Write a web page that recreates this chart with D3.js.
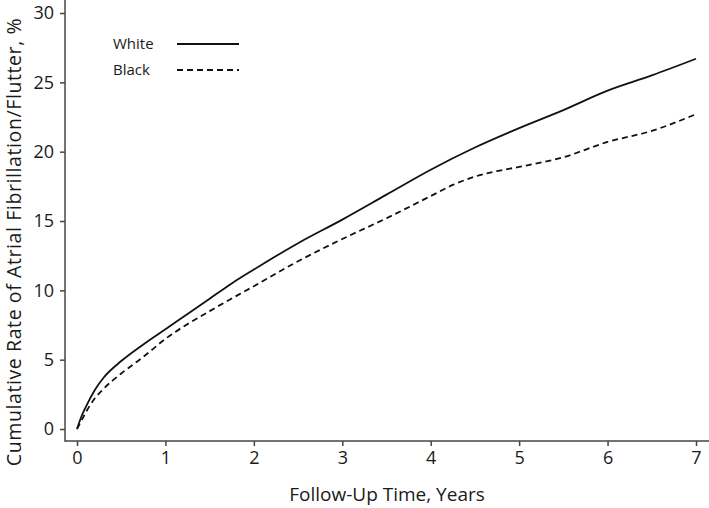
<!DOCTYPE html>
<html>
<head>
<meta charset="utf-8">
<script src="https://cdn.jsdelivr.net/npm/d3@7"></script>
<style>
  body { margin: 0; background: #fff; }
  svg text { font-family: "Open Sans", Lato, sans-serif; fill: #1a1a1a; }
</style>
</head>
<body>
<svg id="chart" width="709" height="508"></svg>
<script>
// follow-up years and cumulative rate (%)
var whiteYears = [0, 0.05, 0.1, 0.2, 0.3, 0.5, 0.75, 1, 1.25, 1.5, 1.75, 2, 2.5, 3, 3.5, 4, 4.5, 5, 5.5, 6, 6.5, 7];
var whiteRate  = [0, 0.9, 1.6, 2.8, 3.7, 4.9, 6.1, 7.2, 8.3, 9.4, 10.5, 11.5, 13.4, 15.1, 16.9, 18.7, 20.3, 21.7, 23.0, 24.4, 25.5, 26.7];

var blackYears = [0, 0.05, 0.1, 0.2, 0.3, 0.5, 0.75, 1, 1.5, 2, 2.5, 3, 3.5, 4, 4.25, 4.5, 4.75, 5, 5.5, 6, 6.5, 7];
var blackRate  = [0, 0.6, 1.2, 2.2, 2.9, 4.0, 5.2, 6.5, 8.5, 10.3, 12.1, 13.7, 15.2, 16.8, 17.6, 18.2, 18.6, 18.9, 19.6, 20.7, 21.5, 22.7];

var xTicks = [0, 1, 2, 3, 4, 5, 6, 7];
var yTicks = [0, 5, 10, 15, 20, 25, 30];

var series = [
  {name: "White", t: whiteYears, v: whiteRate, dash: null},
  {name: "Black", t: blackYears, v: blackRate, dash: "6,4"}
];

var svg = d3.select('#chart');

var x = d3.scaleLinear().domain([0, 7]).range([77, 696]);
var y = d3.scaleLinear().domain([0, 30]).range([429, 13]);

var axisColor = "#444";

// axes (domain lines drawn by hand so they run to the frame edges)
var xax = svg.append('g')
  .attr('transform', "translate(0,441)")
  .call(d3.axisBottom(x).tickValues(xTicks).tickSize(5).tickPadding(5).tickFormat(d3.format('d')));
xax.select('.domain').remove();
xax.selectAll('line').attr('stroke', axisColor).attr('stroke-width', 1.5);
xax.selectAll('text').style('font-size', '18px').attr('fill', '#1a1a1a');
xax.append('line').attr('x1', 65).attr('x2', 709).attr('y1', 0).attr('y2', 0)
  .attr('stroke', axisColor).attr('stroke-width', 1.5);

var yax = svg.append('g')
  .attr('transform', "translate(65,0)")
  .call(d3.axisLeft(y).tickValues(yTicks).tickSize(5).tickPadding(6).tickFormat(d3.format('d')));
yax.select('.domain').remove();
yax.selectAll('line').attr('stroke', axisColor).attr('stroke-width', 1.5);
yax.selectAll('text').style('font-size', '18px').attr('fill', '#1a1a1a');
yax.append('line').attr('x1', 0).attr('x2', 0).attr('y1', 0).attr('y2', 441.75)
  .attr('stroke', axisColor).attr('stroke-width', 1.5);

// axis titles
svg.append('text')
  .attr('x', 387).attr('y', 501)
  .attr('text-anchor', 'middle')
  .style('font-size', '19px')
  .text('Follow-Up Time, Years');

svg.append('text')
  .attr('transform', "translate(21,242) rotate(-90)")
  .attr('text-anchor', 'middle')
  .style('font-size', '19.5px')
  .style('letter-spacing', '0.6px')
  .text('Cumulative Rate of Atrial Fibrillation/Flutter, %');

// curves
var line = d3.line()
  .x(function(d){ return x(d[0]); })
  .y(function(d){ return y(d[1]); })
  .curve(d3.curveMonotoneX);

series.forEach(function(s){
  var pts = s.t.map(function(t, i){ return [t, s.v[i]]; });
  svg.append('path')
    .datum(pts)
    .attr('fill', 'none')
    .attr('stroke', '#111')
    .attr('stroke-width', 1.8)
    .attr('stroke-dasharray', s.dash)
    .attr('d', line);
});

// legend
var legend = svg.append('g').attr('transform', "translate(113,44)");
series.forEach(function(s, i){
  var g = legend.append('g').attr('transform', "translate(0," + (i * 26) + ")");
  g.append('text').attr('x', 0).attr('y', 5).style('font-size', '15px').text(s.name);
  g.append('line').attr('x1', 64).attr('x2', 126).attr('y1', 0).attr('y2', 0)
    .attr('stroke', '#111').attr('stroke-width', 1.8)
    .attr('stroke-dasharray', s.dash);
});
</script>
</body>
</html>
